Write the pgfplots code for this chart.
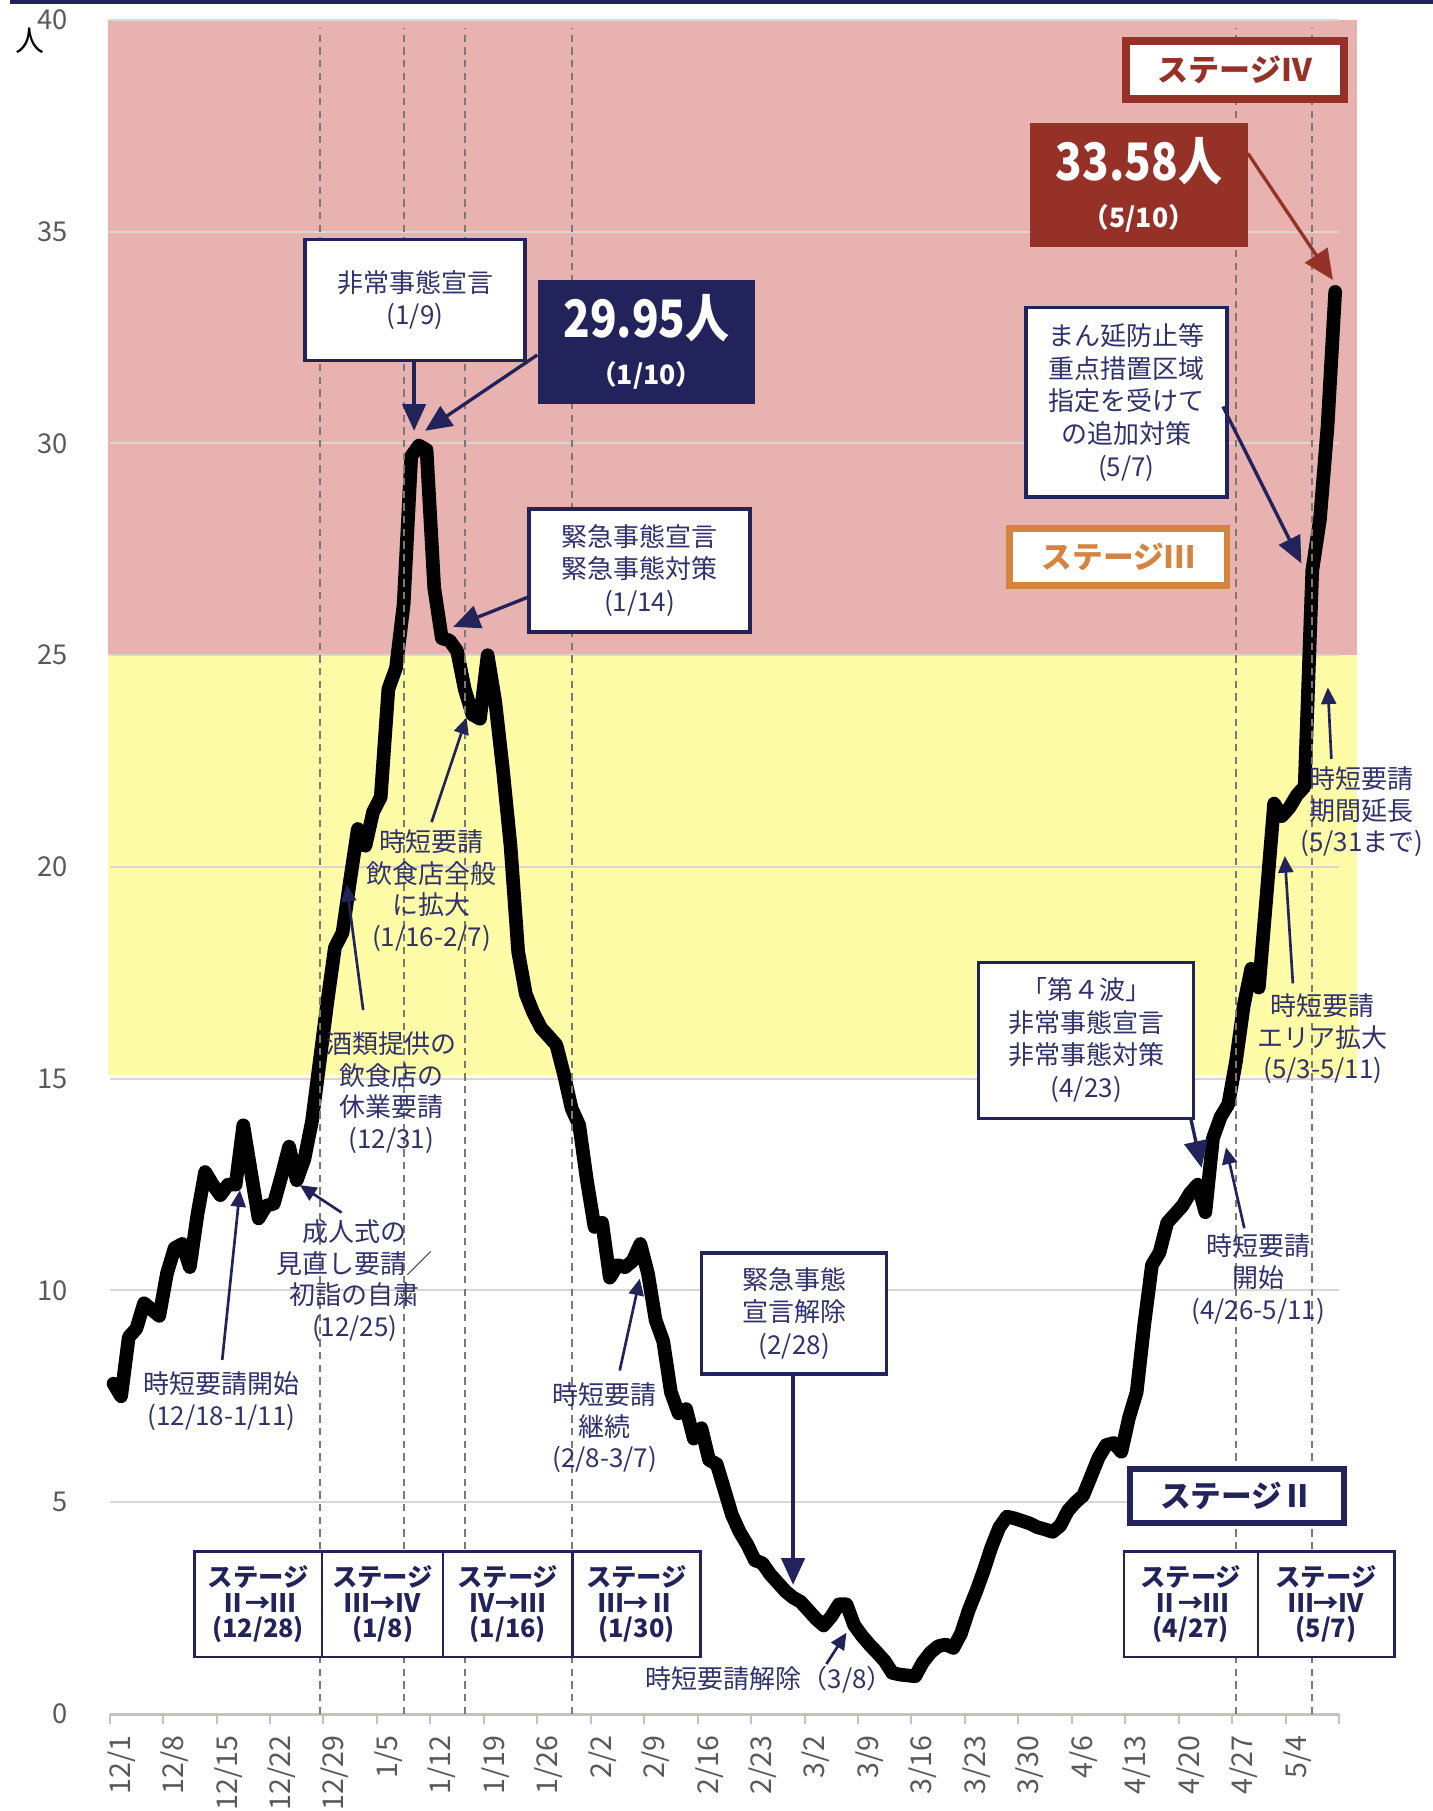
\documentclass[border=0pt]{standalone}
\usepackage{pgfplots}
\pgfplotsset{compat=1.18}
\usepackage{pgfplotstable}
\usepackage{fontspec}
\setmainfont{Noto Sans CJK JP}
\usetikzlibrary{arrows.meta}

\definecolor{navy}{RGB}{35,35,92}
\definecolor{annot}{RGB}{48,50,108}
\definecolor{bandpink}{RGB}{231,178,175}
\definecolor{bandyellow}{RGB}{255,252,168}
\definecolor{darkred}{RGB}{150,49,40}
\definecolor{orangeb}{RGB}{213,132,63}
\definecolor{gridc}{RGB}{221,213,206}
\definecolor{tickc}{RGB}{89,89,89}
\definecolor{axisc}{RGB}{200,192,186}
\definecolor{dashc}{RGB}{125,120,115}

% daily values, 12/1 = day 0
\pgfplotstableread{
d v
0 7.8
1 7.5
2 8.9
3 9.1
4 9.7
5 9.55
6 9.4
7 10.4
8 11.0
9 11.1
10 10.55
11 11.8
12 12.8
13 12.5
14 12.25
15 12.5
16 12.5
17 13.9
18 12.8
19 11.7
20 12.0
21 12.05
22 12.7
23 13.4
24 12.6
25 13.1
26 14.0
27 15.4
28 16.8
29 18.1
30 18.45
31 19.7
32 20.9
33 20.5
34 21.3
35 21.65
36 24.2
37 24.7
38 26.2
39 29.7
40 29.95
41 29.85
42 26.6
43 25.4
44 25.35
45 25.1
46 24.2
47 23.6
48 23.5
49 25.0
50 23.9
51 22.3
52 20.5
53 18.0
54 17.0
55 16.55
56 16.2
57 16.0
58 15.8
59 15.1
60 14.3
61 13.9
62 12.6
63 11.5
64 11.6
65 10.3
66 10.6
67 10.55
68 10.7
69 11.1
70 10.4
71 9.3
72 8.8
73 7.6
74 7.1
75 7.2
76 6.5
77 6.75
78 6.0
79 5.9
80 5.3
81 4.7
82 4.3
83 4.0
84 3.63
85 3.56
86 3.3
87 3.1
88 2.9
89 2.75
90 2.65
91 2.45
92 2.25
93 2.09
94 2.3
95 2.59
96 2.59
97 2.1
98 1.85
99 1.64
100 1.45
101 1.25
102 0.97
103 0.93
104 0.91
105 0.89
106 1.22
107 1.45
108 1.6
109 1.64
110 1.56
111 1.9
112 2.45
113 2.9
114 3.4
115 3.95
116 4.4
117 4.66
118 4.62
119 4.56
120 4.5
121 4.41
122 4.36
123 4.3
124 4.45
125 4.8
126 5.0
127 5.16
128 5.6
129 6.05
130 6.35
131 6.4
132 6.19
133 7.0
134 7.6
135 9.2
136 10.6
137 10.9
138 11.6
139 11.8
140 12.0
141 12.3
142 12.5
143 11.85
144 13.6
145 14.1
146 14.4
147 15.4
148 16.7
149 17.6
150 17.15
151 19.3
152 21.5
153 21.2
154 21.4
155 21.7
156 21.9
157 27.0
158 28.2
159 30.4
160 33.58
}\data

\tikzset{
  abox/.style={draw=navy, line width=1pt, fill=white, align=center, text=annot,
    inner sep=0pt, font=\fontsize{7.8}{9.8}\selectfont},
  atext/.style={align=center, text=annot, inner sep=0pt, font=\fontsize{7.8}{9.5}\selectfont},
  sbox/.style={draw=navy, line width=0.7pt, fill=white, align=center, text=navy,
    inner sep=0pt, minimum height=31.7pt, font=\bfseries\fontsize{7.6}{7.6}\selectfont},
  numbox/.style={align=center, text=white, inner sep=0pt, font=\bfseries\fontsize{8}{14}\selectfont},
  bigarrow/.style={navy, line width=1pt, -{Triangle[width=7pt,length=8pt]}},
  smallarrow/.style={navy, line width=0.8pt, -{Triangle[width=4.5pt,length=5pt]}},
}
\newcommand{\bignum}[1]{{\fontsize{15.5}{15.5}\selectfont\scalebox{0.85}[1]{#1}}}

\begin{document}
\begin{tikzpicture}
\begin{axis}[
  set layers,
  scale only axis, width=368.8pt, height=508.2pt,
  xmin=0, xmax=161, ymin=0, ymax=40,
  clip=false,
  axis x line*=bottom, axis y line*=left,
  x axis line style={draw=axisc, line width=0.9pt},
  y axis line style={draw=none},
  xtick={0,7,...,161},
  xticklabels={12/1,12/8,12/15,12/22,12/29,1/5,1/12,1/19,1/26,2/2,2/9,2/16,2/23,3/2,3/9,3/16,3/23,3/30,4/6,4/13,4/20,4/27,5/4,},
  ytick={0,5,...,40},
  ymajorgrids, grid style={gridc, line width=0.6pt},
  tick align=outside, major tick length=3pt,
  xtick style={draw=axisc, line width=0.6pt},
  ytick style={draw=none},
  ticklabel style={text=tickc},
  xticklabel style={rotate=90, anchor=east, font=\fontsize{8.6}{8.6}\selectfont, yshift=-3.5pt},
  yticklabel style={font=\fontsize{8.2}{8.2}\selectfont, xshift=-6pt},
  /pgf/number format/assume math mode=true,
]
\coordinate (O) at (axis cs:0,0);

% stage bands
\addplot[fill=bandpink, draw=none, on layer=axis background, forget plot]
  coordinates {(-0.2,25) (163.3,25) (163.3,40) (-0.2,40)} --cycle;
\addplot[fill=bandyellow, draw=none, on layer=axis background, forget plot]
  coordinates {(-0.2,15.1) (163.3,15.1) (163.3,25) (-0.2,25)} --cycle;

% daily line
\addplot[black, line width=4.1pt, line join=round, line cap=round]
  table[x expr=\thisrow{d}+0.5, y=v] {\data};

% stage change dates
\pgfplotsinvokeforeach{27.5,38.5,46.5,60.5,147.5,157.5}{
  \addplot[dashc, line width=0.6pt, dash pattern=on 2.2pt off 1.6pt, forget plot]
    coordinates {(#1,0) (#1,39.8)};
}

\node[font=\fontsize{8.7}{8.7}\selectfont] at (axis cs:-10.4,39.5) {人};

% boxed notes
\node[abox, minimum width=66pt, minimum height=36.3pt] at (axis cs:40.0,33.39) {非常事態宣言\\(1/9)};
\draw[bigarrow] (axis cs:39.87,31.95) -- (axis cs:39.87,30.3);

\node[numbox, fill=navy, minimum width=65.3pt, minimum height=37.2pt] at (axis cs:70.3,32.4) {\bignum{29.95人}\\（1/10）};
\draw[bigarrow] (axis cs:56.0,32.09) -- (axis cs:41.3,30.3);

\node[abox, minimum width=66.3pt, minimum height=36.9pt] at (axis cs:69.4,27.0) {緊急事態宣言\\緊急事態対策\\(1/14)};
\draw[bigarrow] (axis cs:54.9,26.38) -- (axis cs:45.0,25.67);

\node[abox, minimum width=55.5pt, minimum height=36.3pt] at (axis cs:89.66,9.46) {緊急事態\\宣言解除\\(2/28)};
\draw[bigarrow] (axis cs:89.5,8.03) -- (axis cs:89.5,3.05);

\node[abox, minimum width=60.3pt, minimum height=56.8pt] at (axis cs:133.15,30.97) {まん延防止等\\重点措置区域\\指定を受けて\\の追加対策\\(5/7)};
\draw[bigarrow] (axis cs:145.8,30.87) -- (axis cs:156.07,27.17);

\node[draw=orangeb, line width=2pt, fill=white, minimum width=65.2pt, minimum height=17pt,
  text=orangeb, font=\bfseries\fontsize{9.2}{9.2}\selectfont] at (axis cs:132.1,27.32) {ステージⅢ};
\node[draw=darkred, line width=2.4pt, fill=white, minimum width=65.3pt, minimum height=17.6pt,
  text=darkred, font=\bfseries\fontsize{9.3}{9.3}\selectfont] at (axis cs:147.4,38.82) {ステージⅣ};
\node[draw=navy, line width=1.8pt, fill=white, minimum width=64.2pt, minimum height=16.2pt,
  text=navy, font=\bfseries\fontsize{9.2}{9.2}\selectfont] at (axis cs:147.6,5.14) {ステージⅡ};

\node[numbox, fill=darkred, minimum width=65.3pt, minimum height=37.4pt] at (axis cs:134.8,36.1) {\bignum{33.58人}\\（5/10）};
\draw[darkred, line width=1pt, -{Triangle[width=8pt,length=9pt]}] (axis cs:149.07,36.85) -- (axis cs:160.2,33.86);

\node[abox, minimum width=64.5pt, minimum height=46.8pt] at (axis cs:127.9,15.91) {「第４波」\\非常事態宣言\\非常事態対策\\(4/23)};
\draw[bigarrow] (axis cs:141.6,14.05) -- (axis cs:143.0,12.9);

% stage transitions along the bottom
\node[sbox, minimum width=38.3pt] at (axis cs:19.46,2.59) {ステージ\\Ⅱ→Ⅲ\\(12/28)};
\node[sbox, minimum width=36.4pt] at (axis cs:35.76,2.59) {ステージ\\Ⅲ→Ⅳ\\(1/8)};
\node[sbox, minimum width=38.8pt] at (axis cs:52.15,2.59) {ステージ\\Ⅳ→Ⅲ\\(1/16)};
\node[sbox, minimum width=38.4pt] at (axis cs:69.0,2.59) {ステージ\\Ⅲ→Ⅱ\\(1/30)};
\node[sbox, minimum width=40.3pt] at (axis cs:141.6,2.59) {ステージ\\Ⅱ→Ⅲ\\(4/27)};
\node[sbox, minimum width=41pt] at (axis cs:159.3,2.59) {ステージ\\Ⅲ→Ⅳ\\(5/7)};

% plain notes
\node[atext] at (axis cs:14.66,7.39) {時短要請開始\\(12/18-1/11)};
\draw[smallarrow] (axis cs:14.74,8.36) -- (axis cs:17.06,12.37);
\node[atext] at (axis cs:32.1,10.23) {成人式の\\見直し要請／\\初詣の自粛\\(12/25)};
\draw[smallarrow] (axis cs:30.37,11.84) -- (axis cs:24.9,12.49);
\node[atext] at (axis cs:36.9,14.67) {酒類提供の\\飲食店の\\休業要請\\(12/31)};
\draw[smallarrow] (axis cs:33.2,16.62) -- (axis cs:31.03,19.58);
\node[atext] at (axis cs:42.16,19.44) {時短要請\\飲食店全般\\に拡大\\(1/16-2/7)};
\draw[smallarrow] (axis cs:42.16,21.06) -- (axis cs:46.74,23.53);
\node[atext] at (axis cs:64.85,6.76) {時短要請\\継続\\(2/8-3/7)};
\draw[smallarrow] (axis cs:66.8,8.11) -- (axis cs:69.43,10.28);
\node[atext] at (axis cs:86.4,0.8) {時短要請解除（3/8）};
\draw[smallarrow] (axis cs:93.87,1.18) -- (axis cs:96.5,1.92);
\node[atext] at (axis cs:150.4,10.27) {時短要請\\開始\\(4/26-5/11)};
\draw[smallarrow] (axis cs:148.6,11.47) -- (axis cs:146.2,13.38);
\node[atext] at (axis cs:158.9,15.94) {時短要請\\エリア拡大\\(5/3-5/11)};
\draw[smallarrow] (axis cs:154.96,17.25) -- (axis cs:153.9,20.26);
\node[atext] at (axis cs:164.0,21.3) {時短要請\\期間延長\\(5/31まで)};
\draw[smallarrow] (axis cs:160.0,22.55) -- (axis cs:159.54,24.24);
\end{axis}
\fill[navy] ([shift={(-29.9pt,513.1pt)}]O) rectangle ([shift={(397pt,514.2pt)}]O);
\pgfresetboundingbox
\useasboundingbox ([shift={(-32.9pt,-29.1pt)}]O) rectangle ([shift={(397pt,514.2pt)}]O);
\end{tikzpicture}
\end{document}
